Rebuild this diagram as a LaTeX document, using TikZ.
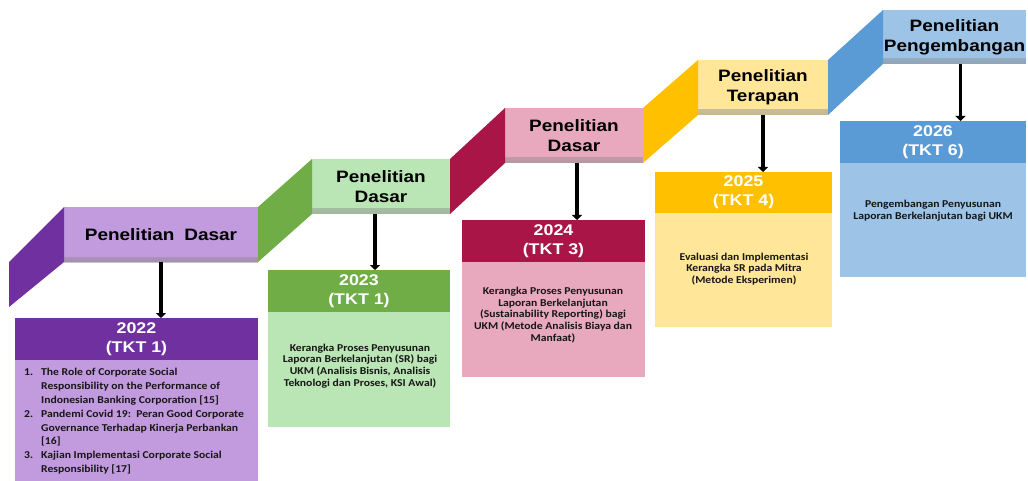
\documentclass[tikz,border=0pt]{standalone}
\usepackage{fontspec}
\setmainfont{Carlito}[FakeStretch=1.11]
\newfontfamily\hfont{Liberation Sans}[FakeStretch=1.15]
\usetikzlibrary{arrows.meta,calc}
\definecolor{pD}{HTML}{7030A0}
\definecolor{pL}{HTML}{C29ADE}
\definecolor{gD}{HTML}{70AD47}
\definecolor{gL}{HTML}{BAE5B4}
\definecolor{rD}{HTML}{AA1548}
\definecolor{rL}{HTML}{E8A8BE}
\definecolor{oD}{HTML}{FFC000}
\definecolor{oL}{HTML}{FFE699}
\definecolor{bD}{HTML}{5B9BD5}
\definecolor{bL}{HTML}{9DC3E6}
\definecolor{ink}{HTML}{161616}
\begin{document}
\begin{tikzpicture}[x=1pt,y=-1pt,
  box/.style={draw=none, inner sep=0pt, outer sep=0pt, anchor=north west, align=center},
  hdr/.style={box, font=\hfont\bfseries\fontsize{16.5}{20}\selectfont, text=black,
    path picture={\shade[top color=black!0, bottom color=black!50, opacity=0.45]
      ([yshift=5pt]path picture bounding box.south west) rectangle (path picture bounding box.south east);}},
  yr/.style={box, font=\hfont\bfseries\fontsize{15.5}{19}\selectfont, text=white},
  cnt/.style={box},
  txt/.style={inner sep=0pt, align=center, font=\bfseries\fontsize{10.5}{11.8}\selectfont, text=ink},
  arr/.style={line width=3.5pt, black, -{Triangle[length=5pt,width=10pt]}}]
\useasboundingbox (0,0) rectangle (1028,481);

% ---------- step 1 (purple)
\node[hdr, fill=pL, minimum width=194pt, minimum height=55pt] (h1) at (64,207) {Penelitian\hspace{0.6em}Dasar};
\coordinate (s1a) at (9,262);
\coordinate (s1b) at (9,307);
\fill[pD] (s1a) -- (h1.north west) -- (h1.south west) -- (s1b) -- cycle;
\node[yr, fill=pD, minimum width=243pt, minimum height=42pt] (y1) at (15,318) {2022\\(TKT 1)};
\node[cnt, fill=pL, minimum width=243pt, minimum height=121pt] (c1) at (15,360) {};
\node[anchor=north west, inner sep=0pt, font=\bfseries\fontsize{10.5}{13.8}\selectfont, text=ink] (t1) at (24,366)
{\begin{tabular}{@{}p{17pt}@{}l@{}}
1. & The Role of Corporate Social\\
   & Responsibility on the Performance of\\
   & Indonesian Banking Corporation [15]\\
2. & Pandemi Covid 19:\ \ Peran Good Corporate\\
   & Governance Terhadap Kinerja Perbankan\\
   & [16]\\
3. & Kajian Implementasi Corporate Social\\
   & Responsibility [17]
\end{tabular}};
\draw[arr] (h1.south) -- (h1.south |- y1.north);

% ---------- step 2 (green)
\node[hdr, fill=gL, minimum width=138pt, minimum height=55pt] (h2) at (312,159) {Penelitian\\Dasar};
\fill[gD] (h1.north east) -- (h2.north west) -- (h2.south west) -- (h1.south east) -- cycle;
\node[yr, fill=gD, minimum width=182pt, minimum height=42pt] (y2) at (268,270) {2023\\(TKT 1)};
\node[cnt, fill=gL, minimum width=182pt, minimum height=115pt] (c2) at (268,312) {};
\node[txt] (t2) at (360,366) {Kerangka Proses Penyusunan\\Laporan Berkelanjutan (SR) bagi\\UKM (Analisis Bisnis, Analisis\\Teknologi dan Proses, KSI Awal)};
\draw[arr] ([xshift=-6pt]h2.south) -- ([xshift=-6pt]h2.south |- y2.north);

% ---------- step 3 (crimson)
\node[hdr, fill=rL, minimum width=138pt, minimum height=55pt] (h3) at (505,108) {Penelitian\\Dasar};
\fill[rD] (h2.north east) -- (h3.north west) -- (h3.south west) -- (h2.south east) -- cycle;
\node[yr, fill=rD, minimum width=183pt, minimum height=42pt] (y3) at (462,220) {2024\\(TKT 3)};
\node[cnt, fill=rL, minimum width=183pt, minimum height=115pt] (c3) at (462,262) {};
\node[txt] (t3) at (553,315) {Kerangka Proses Penyusunan\\Laporan Berkelanjutan\\(Sustainability Reporting) bagi\\UKM (Metode Analisis Biaya dan\\Manfaat)};
\draw[arr] ([xshift=3pt]h3.south) -- ([xshift=3pt]h3.south |- y3.north);

% ---------- step 4 (gold)
\node[hdr, fill=oL, minimum width=130pt, minimum height=55pt] (h4) at (698,60) {Penelitian\\Terapan};
\fill[oD] (h3.north east) -- (h4.north west) -- (h4.south west) -- (h3.south east) -- cycle;
\node[yr, fill=oD, minimum width=177pt, minimum height=41pt] (y4) at (655,172) {2025\\(TKT 4)};
\node[cnt, fill=oL, minimum width=177pt, minimum height=114pt] (c4) at (655,213) {};
\node[txt] (t4) at (744,269) {Evaluasi dan Implementasi\\Kerangka SR pada Mitra\\(Metode Eksperimen)};
\draw[arr] (h4.south) -- (h4.south |- y4.north);

% ---------- step 5 (blue)
\node[hdr, fill=bL, minimum width=143pt, minimum height=54pt] (h5) at (883,10) {Penelitian\\Pengembangan};
\fill[bD] (h4.north east) -- (h5.north west) -- (h5.south west) -- (h4.south east) -- cycle;
\node[yr, fill=bD, minimum width=186pt, minimum height=42pt] (y5) at (840,121) {2026\\(TKT 6)};
\node[cnt, fill=bL, minimum width=186pt, minimum height=114pt] (c5) at (840,163) {};
\node[txt] (t5) at (933,211) {Pengembangan Penyusunan\\Laporan Berkelanjutan bagi UKM};
\draw[arr] ([xshift=6pt]h5.south) -- ([xshift=6pt]h5.south |- y5.north);
\end{tikzpicture}
\end{document}
